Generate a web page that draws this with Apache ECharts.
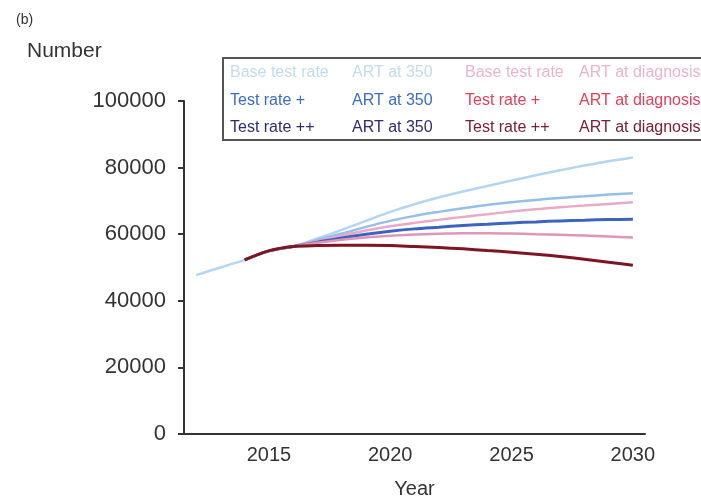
<!DOCTYPE html>
<html>
<head>
<meta charset="utf-8">
<script src="https://cdn.jsdelivr.net/npm/echarts@6/dist/echarts.min.js"></script>
<style>
  html, body { margin: 0; padding: 0; background: #fff; }
  #chart { width: 701px; height: 502px; }
</style>
</head>
<body>
<div id="chart"></div>
<script>
// Projected numbers by year under six testing / ART-initiation scenarios
const years = [2012, 2013, 2014, 2015, 2016, 2017, 2018, 2019, 2020, 2021, 2022, 2023, 2024, 2025, 2026, 2027, 2028, 2029, 2030];

const base350   = [47700, 50000, 52300, 55000, 56300, 58700, 61300, 64000, 66700, 69000, 71000, 72800, 74500, 76100, 77700, 79200, 80600, 81900, 83000];
const plus350   = [null, null, 52300, 55000, 56300, 58300, 60200, 62200, 64000, 65500, 66700, 67800, 68800, 69600, 70300, 70900, 71400, 71900, 72300];
const plus2_350 = [null, null, 52300, 55000, 56300, 57600, 58900, 60000, 60900, 61600, 62100, 62600, 63000, 63400, 63700, 64000, 64200, 64400, 64500];
const baseDiag  = [null, null, 52300, 55000, 56300, 57900, 59600, 61100, 62400, 63400, 64300, 65200, 66000, 66800, 67500, 68100, 68600, 69100, 69600];
const plusDiag  = [null, null, 52300, 55000, 56300, 57400, 58300, 59000, 59500, 59900, 60100, 60300, 60300, 60200, 60000, 59800, 59600, 59300, 59000];
const plus2Diag = [null, null, 52300, 55000, 56300, 56600, 56700, 56700, 56600, 56300, 56000, 55600, 55100, 54600, 54000, 53300, 52500, 51600, 50700];

const xTickLabels = [2015, 2020, 2025, 2030];

const FONT = '"Liberation Sans", Arial, Helvetica, sans-serif';

function pairs(values) {
  return years.map((y, i) => [y, values[i]]).filter(p => p[1] !== null);
}

// name, data, line colour, legend text colour, line width
const scenarios = [
  ['Base test rate|ART at 350',       base350,   '#b3d5f2', '#c3dbf1', 2.5],
  ['Test rate +|ART at 350',          plus350,   '#93bfea', '#3a6cc6', 2.5],
  ['Base test rate|ART at diagnosis', baseDiag,  '#eaa9c6', '#ebb4ca', 2.5],
  ['Test rate ++|ART at 350',         plus2_350, '#3d63c2', '#2b2d6e', 3],
  ['Test rate +|ART at diagnosis',    plusDiag,  '#df95b6', '#e0405a', 2.5],
  ['Test rate ++|ART at diagnosis',   plus2Diag, '#7d1522', '#7a2030', 3]
];

const legendOrder = [
  'Base test rate|ART at 350', 'Base test rate|ART at diagnosis',
  'Test rate +|ART at 350', 'Test rate +|ART at diagnosis',
  'Test rate ++|ART at 350', 'Test rate ++|ART at diagnosis'
];

const chart = echarts.init(document.getElementById('chart'), null, { renderer: 'canvas' });

chart.setOption({
  backgroundColor: '#fff',
  animation: false,
  title: [
    { text: '(b)', left: 11, top: 8, textStyle: { fontFamily: FONT, fontSize: 14, fontWeight: 'normal', color: '#333' } },
    { text: 'Number', left: 22, top: 36, textStyle: { fontFamily: FONT, fontSize: 21, fontWeight: 'normal', color: '#333' } }
  ],
  legend: {
    left: 223,
    top: 58,
    width: 500,
    padding: [7, 30, 4, 2],
    itemGap: 11.5,
    icon: 'rect',
    itemWidth: 0,
    itemHeight: 15,
    itemStyle: { opacity: 0 },
    selectedMode: false,
    borderColor: '#555',
    borderWidth: 2,
    data: legendOrder.map(n => {
      const s = scenarios.find(d => d[0] === n);
      return { name: n, textStyle: { color: s[3] } };
    }),
    formatter: function (name) {
      const parts = name.split('|');
      const right = parts[1] === 'ART at diagnosis';
      return right ? '{a2|' + parts[0] + '}{b2|' + parts[1] + '}'
                   : '{a1|' + parts[0] + '}{b1|' + parts[1] + '}';
    },
    textStyle: {
      fontFamily: FONT,
      fontSize: 16,
      lineHeight: 15,
      rich: {
        a1: { width: 122, fontFamily: FONT, fontSize: 16 },
        b1: { width: 96.5, fontFamily: FONT, fontSize: 16 },
        a2: { width: 114, fontFamily: FONT, fontSize: 16 },
        b2: { fontFamily: FONT, fontSize: 16 }
      }
    }
  },
  grid: { left: 184, right: 56, top: 101, bottom: 68, containLabel: false, outerBoundsMode: 'none' },
  xAxis: {
    type: 'value',
    min: 2011.5,
    max: 2030.5,
    name: 'Year',
    nameLocation: 'middle',
    nameGap: 45,
    nameTextStyle: { fontFamily: FONT, fontSize: 20, color: '#333' },
    axisLine: { lineStyle: { color: '#333', width: 2 } },
    axisTick: { show: false },
    splitLine: { show: false },
    axisLabel: {
      customValues: xTickLabels,
      formatter: v => String(v),
      fontFamily: FONT, fontSize: 20, color: '#333', margin: 11
    }
  },
  yAxis: {
    type: 'value',
    min: 0,
    max: 100000,
    interval: 20000,
    axisLine: { show: true, lineStyle: { color: '#333', width: 2 } },
    axisTick: { show: true, length: 6, lineStyle: { color: '#333', width: 2 } },
    splitLine: { show: false },
    axisLabel: { formatter: v => String(v), fontFamily: FONT, fontSize: 22, color: '#333', margin: 18 }
  },
  series: scenarios.map(s => ({
    name: s[0],
    type: 'line',
    data: pairs(s[1]),
    smooth: 0.3,
    showSymbol: false,
    symbol: 'none',
    color: s[2],
    lineStyle: { color: s[2], width: s[4] }
  }))
});
</script>
</body>
</html>
